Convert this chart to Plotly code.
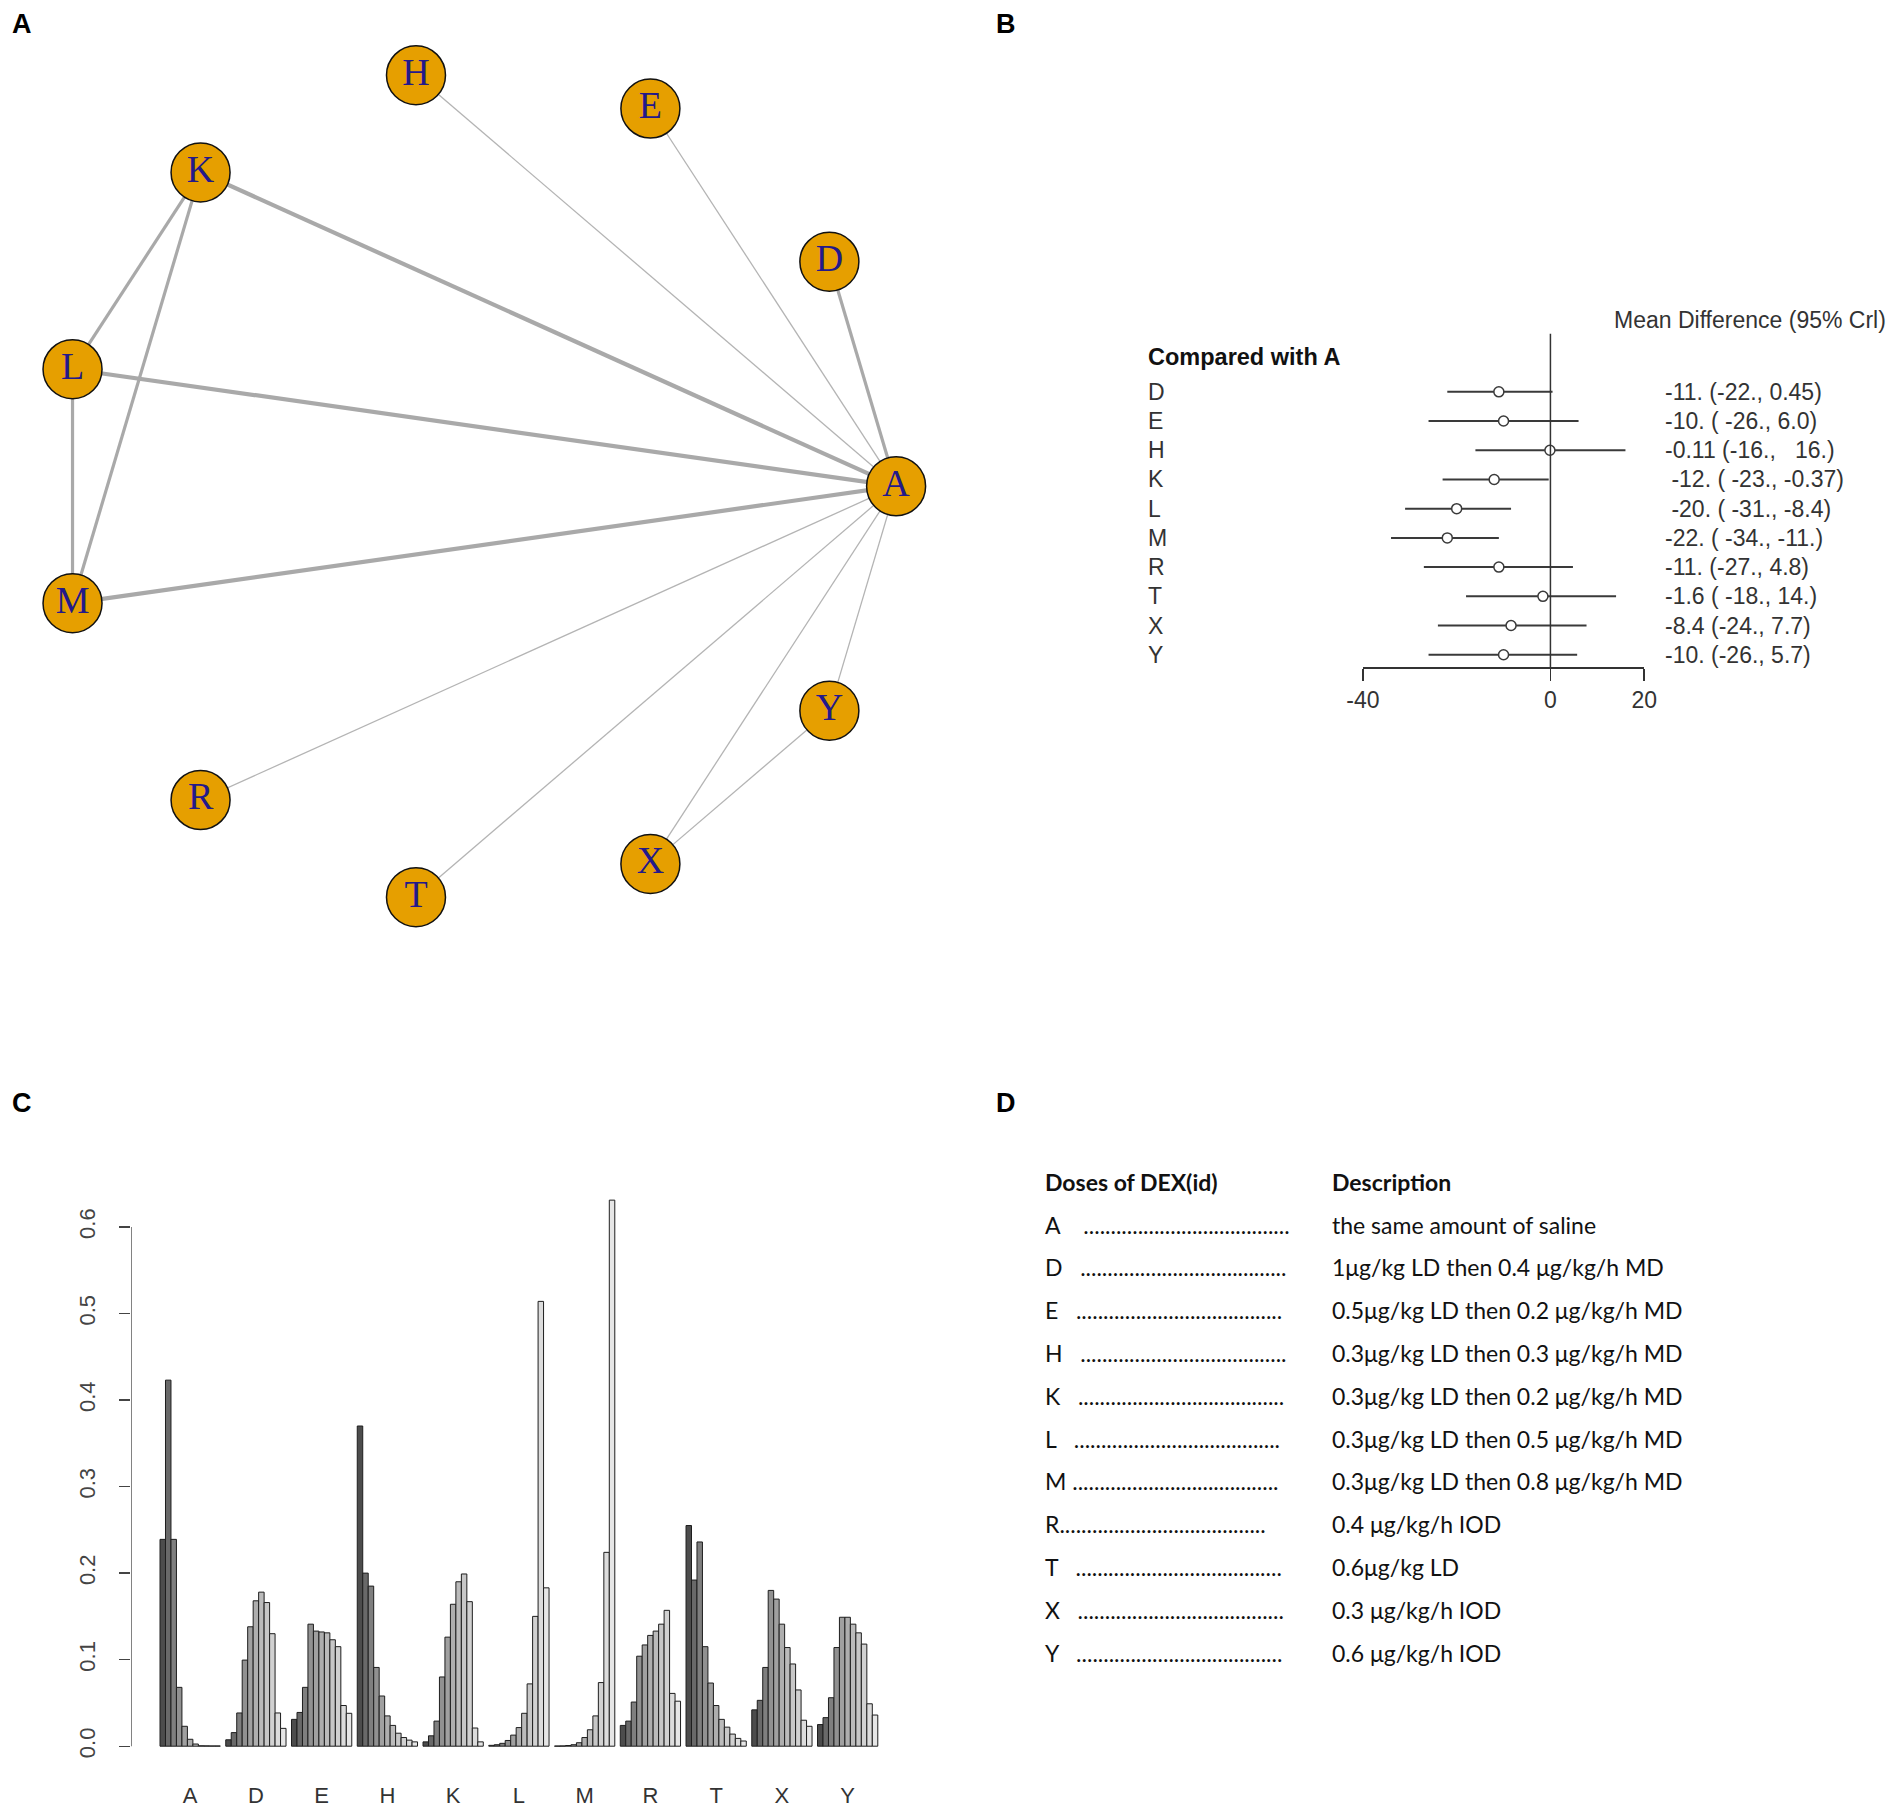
import math
import plotly.graph_objects as go

W, H = 1901, 1812

# ---------------- Panel A : network ----------------
nodes = ["A", "D", "E", "H", "K", "L", "M", "R", "T", "X", "Y"]
edge_from = ["A", "A", "A", "A", "A", "A", "A", "A", "A", "A", "K", "K", "L", "X"]
edge_to   = ["D", "E", "H", "K", "L", "M", "R", "T", "X", "Y", "L", "M", "M", "Y"]
edge_studies = [2, 1, 1, 3, 3, 3, 1, 1, 1, 1, 2, 2, 2, 1]

# ---------------- Panel B : forest ----------------
forest_treat = ["D", "E", "H", "K", "L", "M", "R", "T", "X", "Y"]
forest_md = [-11, -10, -0.11, -12, -20, -22, -11, -1.6, -8.4, -10]
forest_lo = [-22, -26, -16, -23, -31, -34, -27, -18, -24, -26]
forest_hi = [0.45, 6.0, 16, -0.37, -8.4, -11, 4.8, 14, 7.7, 5.7]
forest_text = ["-11. (-22., 0.45)", "-10. ( -26., 6.0)", "-0.11 (-16.,   16.)",
               " -12. ( -23., -0.37)", " -20. ( -31., -8.4)", "-22. ( -34., -11.)",
               "-11. (-27., 4.8)", "-1.6 ( -18., 14.)", "-8.4 (-24., 7.7)", "-10. (-26., 5.7)"]
forest_ticks = [-40, 0, 20]

# ---------------- Panel C : rankogram ----------------
rank_treat = ["A", "D", "E", "H", "K", "L", "M", "R", "T", "X", "Y"]
rank_A = [0.239, 0.423, 0.239, 0.068, 0.023, 0.008, 0.0025, 0.0005, 0.0004, 0.0003, 0.0003]
rank_D = [0.0074, 0.0157, 0.0384, 0.0995, 0.138, 0.168, 0.178, 0.166, 0.130, 0.0384, 0.0206]
rank_E = [0.031, 0.039, 0.068, 0.141, 0.133, 0.132, 0.131, 0.123, 0.115, 0.047, 0.038]
rank_H = [0.370, 0.200, 0.185, 0.091, 0.058, 0.035, 0.024, 0.015, 0.010, 0.007, 0.005]
rank_K = [0.005, 0.012, 0.029, 0.080, 0.126, 0.164, 0.190, 0.199, 0.167, 0.021, 0.005]
rank_L = [0.001, 0.0017, 0.0033, 0.0066, 0.0128, 0.0215, 0.038, 0.072, 0.150, 0.514, 0.183]
rank_M = [0.0002, 0.0003, 0.0008, 0.0017, 0.004, 0.010, 0.019, 0.035, 0.0735, 0.224, 0.631]
rank_R = [0.024, 0.029, 0.051, 0.104, 0.117, 0.128, 0.133, 0.141, 0.157, 0.061, 0.052]
rank_T = [0.255, 0.192, 0.236, 0.115, 0.073, 0.047, 0.031, 0.022, 0.014, 0.009, 0.006]
rank_X = [0.042, 0.053, 0.091, 0.180, 0.170, 0.141, 0.114, 0.095, 0.065, 0.030, 0.023]
rank_Y = [0.025, 0.033, 0.056, 0.114, 0.149, 0.149, 0.141, 0.131, 0.118, 0.049, 0.036]
rank_tickvals = [0.0, 0.1, 0.2, 0.3, 0.4, 0.5, 0.6]
rank_ticktext = ["0.0", "0.1", "0.2", "0.3", "0.4", "0.5", "0.6"]

# ---------------- Panel D : table ----------------
dose_ids = ["A", "D", "E", "H", "K", "L", "M", "R", "T", "X", "Y"]
dose_desc = ["the same amount of saline",
             "1\u03bcg/kg LD then 0.4 \u03bcg/kg/h MD",
             "0.5\u03bcg/kg LD then 0.2 \u03bcg/kg/h MD",
             "0.3\u03bcg/kg LD then 0.3 \u03bcg/kg/h MD",
             "0.3\u03bcg/kg LD then 0.2 \u03bcg/kg/h MD",
             "0.3\u03bcg/kg LD then 0.5 \u03bcg/kg/h MD",
             "0.3\u03bcg/kg LD then 0.8 \u03bcg/kg/h MD",
             "0.4 \u03bcg/kg/h IOD",
             "0.6\u03bcg/kg LD",
             "0.3 \u03bcg/kg/h IOD",
             "0.6 \u03bcg/kg/h IOD"]

fig = go.Figure()

def px_x(v):
    return v / W

def px_y(v):
    return 1 - v / H

# ---------- network ----------
n = len(nodes)
pos = {name: (math.cos(2 * math.pi * i / n), math.sin(2 * math.pi * i / n)) for i, name in enumerate(nodes)}
width_map = {1: 1.3, 2: 3.2, 3: 4.2}
for k in sorted(set(edge_studies)):
    xs, ys = [], []
    for a, b, s in zip(edge_from, edge_to, edge_studies):
        if s == k:
            xs += [pos[a][0], pos[b][0], None]
            ys += [pos[a][1], pos[b][1], None]
    fig.add_trace(go.Scatter(x=xs, y=ys, mode="lines", xaxis="x", yaxis="y", cliponaxis=False,
                             line=dict(color="#a9a9a9" if k > 1 else "#b4b4b4", width=width_map[k]),
                             hoverinfo="skip", showlegend=False))
fig.add_trace(go.Scatter(x=[pos[v][0] for v in nodes], y=[pos[v][1] for v in nodes],
                         mode="markers+text", text=nodes, textposition="middle center", cliponaxis=False,
                         textfont=dict(family="Liberation Serif, Times New Roman, serif", size=38, color="#23198a"),
                         marker=dict(size=59, color="#e69f00", line=dict(color="#111111", width=1.5)),
                         xaxis="x", yaxis="y", hoverinfo="skip", showlegend=False))

# ---------- forest ----------
rows = list(range(len(forest_treat)))
cx, cy = [], []
for i, l, h in zip(rows, forest_lo, forest_hi):
    cx += [l, h, None]
    cy += [i, i, None]
fig.add_trace(go.Scatter(x=cx, y=cy, mode="lines", xaxis="x2", yaxis="y2", cliponaxis=False,
                         line=dict(color="#3a3a3a", width=2), hoverinfo="skip", showlegend=False))
fig.add_trace(go.Scatter(x=forest_md, y=rows, mode="markers", xaxis="x2", yaxis="y2", cliponaxis=False,
                         marker=dict(symbol="circle", size=10, color="white",
                                     line=dict(color="#3a3a3a", width=1.5)),
                         hoverinfo="skip", showlegend=False))

# ---------- rankogram ----------
def gray_level(k, m):
    a, b = 0.3 ** 2.2, 0.9 ** 2.2
    v = (a + (b - a) * k / (m - 1)) ** (1 / 2.2)
    c = int(round(v * 255))
    return "rgb(%d,%d,%d)" % (c, c, c)

rank_data = [rank_A, rank_D, rank_E, rank_H, rank_K, rank_L, rank_M, rank_R, rank_T, rank_X, rank_Y]
nr = len(rank_A)
for k in range(nr):
    fig.add_trace(go.Bar(x=[g * (nr + 1) + 1 + k + 0.5 for g in range(len(rank_treat))],
                         y=[row[k] for row in rank_data], width=1.0, cliponaxis=False,
                         marker=dict(color=gray_level(k, nr), line=dict(color="#1e1e1e", width=1)),
                         xaxis="x3", yaxis="y3", hoverinfo="skip", showlegend=False))
group_centers = [g * (nr + 1) + 1 + nr / 2 for g in range(len(rank_treat))]

shapes = [
    dict(type="line", xref="x2", yref="y2", x0=0, x1=0, y0=-2, y1=9.42,
         line=dict(color="#333333", width=1.5)),
    dict(type="line", xref="x3", yref="y3", x0=-4.24, x1=-4.24, y0=0, y1=0.6,
         line=dict(color="#444444", width=1.3)),
]

ann = []
lab_font = dict(family="Liberation Sans, Arial, sans-serif", size=27, color="black")
for t, (x, y) in zip(["A", "B", "C", "D"], [(22, 24), (1006, 24), (22, 1103), (1006, 1103)]):
    ann.append(dict(text="<b>%s</b>" % t, x=px_x(x), y=px_y(y), xref="paper", yref="paper",
                    xanchor="center", yanchor="middle", showarrow=False, font=lab_font))

ff = "Liberation Sans, Arial, sans-serif"
ann.append(dict(text="Mean Difference (95% Crl)", x=px_x(1612), y=px_y(320), xref="paper", yref="paper",
                xanchor="left", yanchor="middle", showarrow=False, font=dict(family=ff, size=23, color="#333")))
ann.append(dict(text="<b>Compared with A</b>", x=px_x(1146), y=px_y(356.5), xref="paper", yref="paper",
                xanchor="left", yanchor="middle", showarrow=False, font=dict(family=ff, size=23.5, color="#111")))
for i, (t, s) in enumerate(zip(forest_treat, forest_text)):
    ann.append(dict(text=t, x=px_x(1146), y=i, xref="paper", yref="y2", xanchor="left", yanchor="middle",
                    showarrow=False, font=dict(family=ff, size=23, color="#333")))
    ann.append(dict(text=s.replace(" ", "\u00a0"), x=px_x(1663), y=i, xref="paper", yref="y2",
                    xanchor="left", yanchor="middle", showarrow=False, font=dict(family=ff, size=23, color="#333")))

tf = "Lato, Carlito, Calibri, sans-serif"
tsize = 23
ann.append(dict(text="<b>Doses of DEX(id)</b>", x=px_x(1043), y=px_y(1182), xref="paper", yref="paper",
                xanchor="left", yanchor="middle", showarrow=False, font=dict(family=tf, size=tsize, color="#111")))
ann.append(dict(text="<b>Description</b>", x=px_x(1330), y=px_y(1182), xref="paper", yref="paper",
                xanchor="left", yanchor="middle", showarrow=False, font=dict(family=tf, size=tsize, color="#111")))
gaps = {"A": 4, "M": 1, "R": 0}
for i, (d, desc) in enumerate(zip(dose_ids, dose_desc)):
    y = px_y(1224.6 + i * 42.8)
    lead = d + "\u00a0" * gaps.get(d, 3) + "." * 38
    ann.append(dict(text=lead, x=px_x(1043), y=y, xref="paper", yref="paper", xanchor="left",
                    yanchor="middle", showarrow=False, font=dict(family=tf, size=tsize, color="#111")))
    ann.append(dict(text=desc, x=px_x(1330), y=y, xref="paper", yref="paper", xanchor="left",
                    yanchor="middle", showarrow=False, font=dict(family=tf, size=tsize, color="#111")))

fig.update_layout(
    width=W, height=H, margin=dict(l=0, r=0, t=0, b=0, pad=0, autoexpand=False),
    paper_bgcolor="white", plot_bgcolor="white", showlegend=False, barmode="overlay",
    xaxis=dict(domain=[55.5 / W, 896.1 / W], range=[-1, 1], visible=False, automargin=False),
    yaxis=dict(domain=[px_y(901.4), px_y(71.0)], range=[-1, 1], visible=False, automargin=False),
    xaxis2=dict(domain=[1362.9 / W, 1644.2 / W], range=[-40, 20], anchor="y2", automargin=False,
                tickvals=forest_ticks, ticktext=[str(v) for v in forest_ticks],
                ticks="outside", ticklen=12, tickwidth=1.5, tickcolor="#333",
                showline=True, linecolor="#333", linewidth=1.5, showgrid=False, zeroline=False,
                tickfont=dict(family=ff, size=23, color="#333")),
    yaxis2=dict(domain=[px_y(667), px_y(333.4)], range=[9.42, -2], visible=False, anchor="x2",
                automargin=False),
    xaxis3=dict(domain=[131.3 / W, 906.5 / W], range=[-4.24, 137.24], anchor="y3", automargin=False,
                tickvals=group_centers, ticktext=rank_treat, ticks="", showline=False,
                showgrid=False, zeroline=False, ticklabelstandoff=12,
                tickfont=dict(family=ff, size=22, color="#333")),
    yaxis3=dict(domain=[px_y(1768), px_y(1178.5)], range=[-0.0252, 0.656], anchor="x3", automargin=False,
                tickvals=rank_tickvals, ticktext=rank_ticktext, ticks="outside", ticklen=11,
                tickcolor="#444", tickwidth=1.3, tickangle=-90, showline=False, showgrid=False,
                zeroline=False, ticklabelstandoff=16,
                tickfont=dict(family=ff, size=22, color="#444")),
    shapes=shapes, annotations=ann,
)

fig.write_html("out.html", config={"displayModeBar": False, "staticPlot": True},
               post_script="document.body.style.margin='0';document.body.style.overflow='hidden';"
                           "document.documentElement.style.overflow='hidden';")
